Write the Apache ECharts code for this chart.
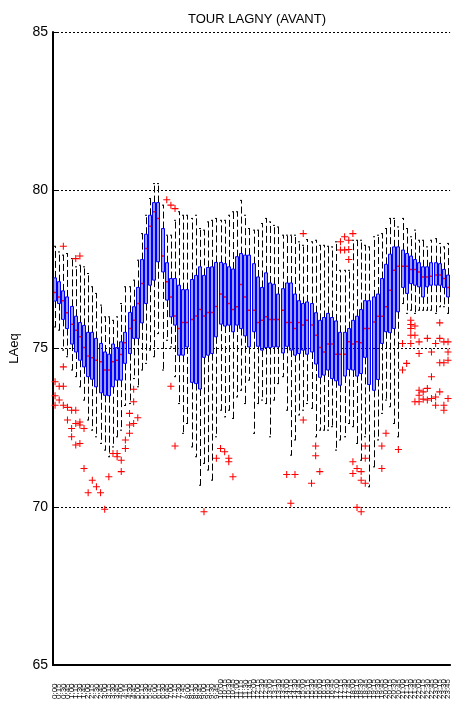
<!DOCTYPE html>
<html>
<head>
<meta charset="utf-8">
<script src="https://cdn.jsdelivr.net/npm/echarts@6/dist/echarts.min.js"></script>
<style>
  html, body { margin: 0; padding: 0; background: #fff; }
  #chart { width: 452px; height: 702px; }
</style>
</head>
<body>
<div id="chart"></div>
<script>
// quarts d'heure de la journee
var timeLabels = [
    "0:00","0:15","0:30","0:45","1:00","1:15","1:30","1:45","2:00","2:15","2:30","2:45",
    "3:00","3:15","3:30","3:45","4:00","4:15","4:30","4:45","5:00","5:15","5:30","5:45",
    "6:00","6:15","6:30","6:45","7:00","7:15","7:30","7:45","8:00","8:15","8:30","8:45",
    "9:00","9:15","9:30","9:45","10:00","10:15","10:30","10:45","11:00","11:15","11:30","11:45",
    "12:00","12:15","12:30","12:45","13:00","13:15","13:30","13:45","14:00","14:15","14:30","14:45",
    "15:00","15:15","15:30","15:45","16:00","16:15","16:30","16:45","17:00","17:15","17:30","17:45",
    "18:00","18:15","18:30","18:45","19:00","19:15","19:30","19:45","20:00","20:15","20:30","20:45",
    "21:00","21:15","21:30","21:45","22:00","22:15","22:30","22:45","23:00","23:15","23:30","23:45"
];

var whiskerLow = [
    75.68,75.58,74.95,74.74,74.32,74.11,73.79,73.37,72.74,72.42,
    72.21,72.00,71.79,71.58,71.89,72.21,72.42,73.20,73.26,74.05,
    73.79,74.32,74.53,74.95,74.74,75.47,74.32,75.26,75.05,74.11,
    73.26,72.32,72.63,71.89,71.58,70.68,71.37,71.16,70.84,72.21,
    73.05,72.84,73.05,72.79,73.47,73.68,73.26,74.00,72.32,73.26,
    73.37,73.26,72.21,73.37,73.89,74.11,73.05,71.63,72.11,72.90,
    73.05,73.26,73.11,72.21,72.42,72.42,72.42,72.53,71.79,72.11,
    72.21,72.63,72.53,72.00,71.47,72.21,70.63,71.26,72.11,72.95,
    73.37,73.16,72.63,72.21,76.42,76.11,76.21,76.11,76.21,76.21,
    76.21,76.21,76.11,76.32,76.32,76.11
];
var q1 = [
    76.50,76.42,75.92,75.63,75.14,74.89,74.63,74.42,74.11,74.03,
    73.79,73.60,73.52,73.51,73.79,74.00,74.00,74.53,74.84,75.32,
    75.32,75.81,76.42,77.00,77.16,77.74,77.42,76.53,76.00,75.74,
    74.79,74.79,75.05,73.93,73.89,73.72,74.72,74.79,74.84,75.37,
    75.77,75.71,75.74,75.53,75.74,75.63,75.40,75.05,75.53,75.07,
    74.95,75.03,75.03,75.05,75.05,74.86,75.07,74.95,74.79,74.84,
    74.95,74.82,74.89,74.51,74.09,74.16,74.32,74.05,73.98,73.84,
    74.13,74.34,74.32,74.13,74.21,74.72,73.86,73.68,74.02,75.16,
    75.53,75.50,75.63,76.16,76.93,76.74,77.05,77.00,76.95,76.63,
    76.95,77.00,77.00,77.00,76.93,76.63
];
var median = [
    76.77,76.63,76.51,76.13,75.77,75.58,75.37,75.03,74.76,74.71,
    74.63,74.58,74.32,74.32,74.58,74.63,74.81,75.18,75.63,75.89,
    76.42,77.05,78.16,78.86,79.32,79.11,77.92,77.11,76.63,76.03,
    75.63,75.82,75.82,75.92,76.03,76.23,76.03,76.14,76.14,76.33,
    76.72,76.63,76.42,76.23,76.32,77.02,76.63,76.21,76.21,75.82,
    75.89,76.00,75.92,75.92,75.92,76.21,75.82,75.82,75.63,75.82,
    75.74,75.89,75.74,75.42,75.03,74.89,75.14,75.14,74.82,74.82,
    74.82,75.21,75.14,75.21,75.18,75.63,75.63,75.84,76.02,76.02,
    76.32,76.84,77.47,77.60,77.60,77.60,77.50,77.50,77.42,77.26,
    77.26,77.28,77.32,77.32,77.21,76.93
];
var q3 = [
    77.23,77.11,76.82,76.63,76.33,76.02,75.82,75.73,75.51,75.51,
    75.32,75.16,74.89,74.82,75.14,75.03,75.21,75.51,76.14,76.32,
    76.93,77.81,78.61,79.21,79.61,79.61,78.79,77.71,77.21,77.21,
    77.00,76.86,76.86,77.18,77.31,77.58,77.31,77.56,77.58,77.72,
    77.72,77.68,77.58,77.51,77.90,78.00,77.95,77.95,77.68,77.26,
    76.93,77.39,77.07,77.03,76.72,76.89,77.07,77.07,76.72,76.51,
    76.42,76.47,76.42,76.13,75.89,75.98,76.11,75.98,75.87,75.51,
    75.51,75.63,75.89,76.02,76.23,76.51,76.51,76.63,76.72,77.21,
    77.66,77.98,78.21,78.21,78.11,78.00,77.92,77.81,77.71,77.58,
    77.58,77.71,77.71,77.68,77.50,77.32
];
var whiskerHigh = [
    78.23,78.05,77.95,78.00,77.84,77.58,77.63,77.58,77.37,76.95,
    76.74,76.37,76.00,76.00,75.89,76.00,76.42,76.95,76.95,77.16,
    77.79,78.63,79.21,79.74,80.21,80.21,79.53,78.58,78.58,79.05,
    79.32,79.21,79.21,79.11,79.21,78.79,78.74,79.00,79.05,79.11,
    79.05,79.05,79.21,79.32,79.32,79.68,79.21,78.79,78.74,78.74,
    78.95,79.11,79.00,78.89,78.84,78.58,78.58,78.58,78.58,78.37,
    78.26,78.44,78.37,78.42,78.26,78.26,78.23,78.21,78.37,77.47,
    77.47,77.47,78.42,78.42,78.42,78.26,78.21,78.53,78.58,78.63,
    78.79,79.11,79.11,78.84,79.11,78.79,78.53,78.74,78.42,78.42,
    78.21,78.42,78.47,78.32,78.21,78.32
];
// valeurs aberrantes : [indice du quart d'heure, LAeq]
var outliers = [
    [0,73.95],[0,73.51],[0,73.21],
    [1,73.81],[1,73.37],
    [2,78.23],[2,74.42],[2,73.81],[2,73.21],
    [3,73.14],[3,72.74],
    [4,73.05],[4,72.47],[4,72.21],
    [5,77.84],[5,73.05],[5,72.63],[5,71.95],
    [6,77.92],[6,72.68],[6,72.58],[6,72.00],
    [7,72.47],[7,71.21],
    [8,70.44],[9,70.84],[10,70.63],[11,70.44],[12,69.92],[13,70.95],
    [14,71.68],[15,71.68],[15,71.58],[16,71.47],[16,71.11],
    [17,72.11],[17,71.84],
    [18,72.95],[18,72.58],[18,72.32],
    [19,73.71],[19,73.32],[19,72.63],
    [20,72.81],
    [27,79.70],[28,79.53],[28,73.81],[29,79.42],[29,71.92],
    [36,69.84],[39,71.53],[40,71.84],[41,71.74],[42,71.53],[42,71.42],[43,70.95],
    [56,71.02],[57,70.11],[58,71.02],
    [60,78.63],[60,72.74],[62,70.74],[63,71.92],[63,71.61],[64,71.11],
    [69,78.37],[69,78.11],[70,78.53],[70,78.11],
    [71,78.42],[71,78.13],[71,77.81],
    [72,78.63],[72,71.42],[72,71.05],
    [73,71.21],[73,69.98],
    [74,71.11],[74,70.84],[74,69.84],
    [75,71.92],[75,71.53],[75,70.74],
    [79,71.92],[79,71.21],[80,72.32],[83,71.81],
    [84,75.16],[84,74.32],
    [85,74.53],
    [86,75.89],[86,75.76],[86,75.63],[86,75.42],[86,75.16],
    [87,75.71],[87,75.42],[87,73.32],
    [88,75.21],[88,74.84],[88,73.68],[88,73.52],[88,73.32],
    [89,73.63],[89,73.40],
    [90,75.32],[90,73.74],[90,73.37],
    [91,74.89],[91,74.11],[91,73.42],
    [92,75.16],[92,73.47],[92,73.21],
    [93,75.81],[93,75.32],[93,74.55],[93,73.63],
    [94,75.21],[94,74.55],[94,73.21],[94,73.05],
    [95,75.21],[95,74.89],[95,74.63],[95,73.42]
];

var boxData = [];
for (var i = 0; i < timeLabels.length; i++) {
    boxData.push([i, whiskerLow[i], q1[i], median[i], q3[i], whiskerHigh[i]]);
}

// boite a moustaches facon matlab : moustaches en pointilles, boite bleue, mediane rouge
function renderBox(params, api) {
    var idx = api.value(0);
    var x = Math.round(api.coord([idx, api.value(3)])[0]);
    var xw = x + 0.5;
    var yLo = api.coord([idx, api.value(1)])[1];
    var yQ1 = api.coord([idx, api.value(2)])[1];
    var yMed = api.coord([idx, api.value(3)])[1];
    var yQ3 = api.coord([idx, api.value(4)])[1];
    var yHi = api.coord([idx, api.value(5)])[1];
    var dash = { stroke: '#000', lineWidth: 1, lineDash: [7, 3] };
    var cap = { stroke: '#000', lineWidth: 1 };
    return {
        type: 'group',
        children: [
            { type: 'line', shape: { x1: xw, y1: yQ3, x2: xw, y2: yHi }, style: dash },
            { type: 'line', shape: { x1: xw, y1: yQ1, x2: xw, y2: yLo }, style: dash },
            { type: 'line', shape: { x1: x - 1, y1: yHi, x2: x + 1, y2: yHi }, style: cap },
            { type: 'line', shape: { x1: x - 1, y1: yLo, x2: x + 1, y2: yLo }, style: cap },
            { type: 'rect', shape: { x: x - 1.5, y: yQ3, width: 3, height: yQ1 - yQ3 },
              style: { fill: 'rgba(0,0,255,0.38)', stroke: '#0000ff', lineWidth: 1 } },
            { type: 'line', shape: { x1: x - 1, y1: yMed, x2: x + 1, y2: yMed },
              style: { stroke: '#ff0000', lineWidth: 1.5 } }
        ]
    };
}

var chart = echarts.init(document.getElementById('chart'), null, { renderer: 'canvas' });
var option = {
    backgroundColor: '#fff',
    animation: false,
    title: {
        text: 'TOUR LAGNY (AVANT)',
        left: 252,
        textAlign: 'center',
        top: 8,
        textStyle: { fontFamily: 'Liberation Sans', fontSize: 13, fontWeight: 'normal', color: '#000' }
    },
    grid: { left: 50, right: 0, top: 32, bottom: 37 },
    xAxis: {
        type: 'category',
        data: timeLabels,
        boundaryGap: true,
        axisLine: { lineStyle: { color: '#000', width: 2 } },
        axisTick: { show: false },
        axisLabel: {
            interval: 0,
            rotate: 90,
            align: 'left',
            margin: 34,
            fontFamily: 'Liberation Sans',
            fontSize: 8,
            color: '#111',
            hideOverlap: false
        },
        splitLine: { show: false }
    },
    yAxis: {
        type: 'value',
        min: 65,
        max: 85,
        interval: 5,
        name: 'LAeq',
        nameLocation: 'middle',
        nameGap: 32,
        nameTextStyle: { fontFamily: 'Liberation Sans', fontSize: 13, color: '#000' },
        axisLine: { show: true, lineStyle: { color: '#000', width: 2 } },
        axisTick: { show: true, inside: true, length: 4, lineStyle: { color: '#000' } },
        axisLabel: { fontFamily: 'Liberation Sans', fontSize: 14, color: '#000', margin: 5 },
        splitLine: { show: true, lineStyle: { color: '#000', width: 1, type: [2, 2] } }
    },
    series: [
        {
            name: 'boites',
            type: 'custom',
            renderItem: renderBox,
            encode: { x: 0, y: [1, 2, 3, 4, 5] },
            data: boxData,
            z: 2
        },
        {
            name: 'aberrants',
            type: 'scatter',
            symbol: 'path://M0,3.4H8V4.6H0Z M3.4,0H4.6V8H3.4Z',
            symbolSize: 7,
            itemStyle: { color: '#ff0000', opacity: 1 },
            data: outliers,
            z: 3
        }
    ]
};
chart.setOption(option);
window.onresize = chart.resize;
</script>
</body>
</html>
